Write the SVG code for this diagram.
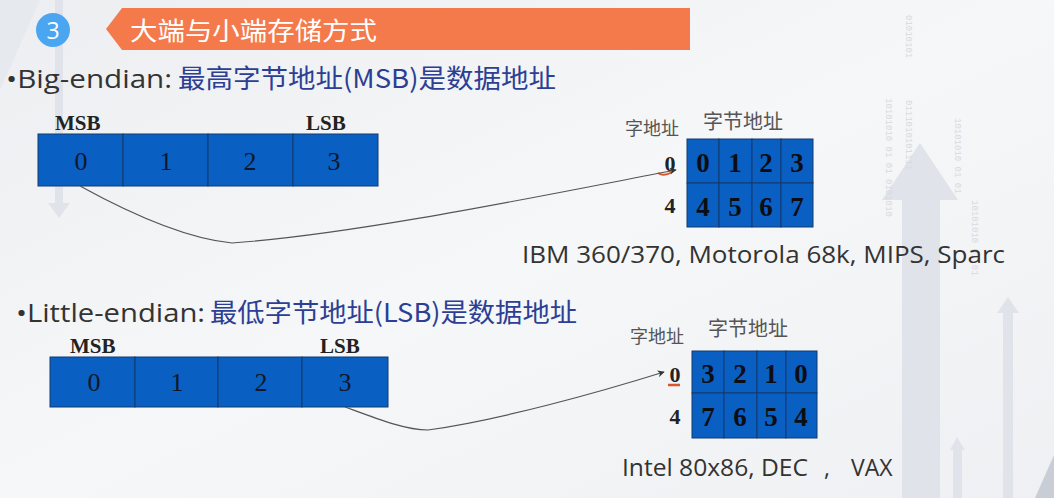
<svg xmlns="http://www.w3.org/2000/svg" width="1054" height="498" viewBox="0 0 1054 498">
  <defs>
    <linearGradient id="bg" x1="0" y1="0" x2="1" y2="1">
      <stop offset="0" stop-color="#eceef1"/>
      <stop offset="0.5" stop-color="#f6f7f8"/>
      <stop offset="1" stop-color="#eef0f3"/>
    </linearGradient>
    <marker id="arrow" viewBox="0 0 10 10" refX="9" refY="5" markerWidth="7" markerHeight="7" orient="auto" markerUnits="userSpaceOnUse">
      <path d="M0,0 L10,5 L0,10 L3,5 Z" fill="#333"/>
    </marker>
    <style>
      .cell { fill: #0a5fc2; stroke: #123a6e; stroke-width: 1; }
      .reg { font-family: "Liberation Serif", serif; font-size: 26px; fill: #101828; text-anchor: middle; }
      .grid { font-family: "Liberation Serif", serif; font-size: 27px; font-weight: bold; fill: #0d0d14; text-anchor: middle; }
      .sb { font-family: "Liberation Serif", serif; font-size: 21px; font-weight: bold; fill: #222; }
      .addr { font-family: "Liberation Serif", serif; font-size: 22px; font-weight: bold; fill: #222; text-anchor: middle; }
      .cjk { font-family: "Noto Sans CJK SC", sans-serif; fill: #555; }
      .bullet { font-family: "Open Sans", sans-serif; font-size: 26px; fill: #333; }
      .blue { font-family: "Noto Sans CJK SC", sans-serif; font-size: 26px; fill: #2c3f94; }
      .note { font-family: "Open Sans", "Noto Sans", sans-serif; font-size: 23px; fill: #333; }
      .conn { fill: none; stroke: #555; stroke-width: 1.2; }
      .deco { fill: #e0e4ea; }
      .bits { font-family: "Liberation Mono", monospace; font-size: 9px; fill: #d6dae1; }
    </style>
  </defs>

  <!-- backdrop -->
  <rect width="1054" height="498" fill="url(#bg)"/>
  <g id="backdrop">
    <polygon points="0,0 40,0 0,90" fill="#e6e9ed"/>
    <rect x="55" y="0" width="8" height="203" class="deco"/>
    <polygon points="48,203 70,203 59,218" class="deco"/>
    <polygon points="920,143 882,200 902,200 902,498 940,498 940,200 958,200" class="deco"/>
    <polygon points="1008,297 997,313 1003,313 1003,498 1013,498 1013,313 1019,313" class="deco"/>
    <polygon points="957,437 950,450 953,450 953,498 962,498 962,450 965,450" class="deco"/>
    <polygon points="1054,455 1054,498 1035,498" fill="#c9ced6"/>
    <text class="bits" transform="translate(906,15) rotate(90)">01010101</text>
    <text class="bits" transform="translate(906,100) rotate(90)">0111010101111</text>
    <text class="bits" transform="translate(955,118) rotate(90)">10101010 01 01</text>
    <text class="bits" transform="translate(886,98) rotate(90)">10101010 01 01 0101010</text>
    <text class="bits" transform="translate(972,200) rotate(90)">10101010 01 01</text>
  </g>

  <!-- section heading -->
  <g id="heading">
    <circle cx="53" cy="30" r="17" fill="#4aa6f0"/>
    <text x="53" y="38.5" font-family="Open Sans, sans-serif" font-size="23" fill="#fff" text-anchor="middle">3</text>
    <polygon points="106,29 122,8 690,8 690,50 122,50" fill="#f47a4c"/>
    <text x="130" y="40" font-family="Noto Sans CJK SC, sans-serif" font-size="25" fill="#fff" textLength="247" lengthAdjust="spacingAndGlyphs">大端与小端存储方式</text>
  </g>

  <!-- big-endian -->
  <g id="big-title">
    <text class="bullet" x="6" y="88" textLength="166" lengthAdjust="spacingAndGlyphs">•Big-endian:</text>
    <text class="blue" x="178" y="88" textLength="378" lengthAdjust="spacingAndGlyphs">最高字节地址(MSB)是数据地址</text>
  </g>

  <g id="big-register">
    <text class="sb" x="55" y="130">MSB</text>
    <text class="sb" x="306" y="130">LSB</text>
    <rect class="cell" x="38" y="134" width="85" height="52"/>
    <rect class="cell" x="123" y="134" width="85" height="52"/>
    <rect class="cell" x="208" y="134" width="85" height="52"/>
    <rect class="cell" x="293" y="134" width="85" height="52"/>
    <text class="reg" x="81" y="170">0</text>
    <text class="reg" x="166" y="170">1</text>
    <text class="reg" x="250" y="170">2</text>
    <text class="reg" x="334" y="170">3</text>
  </g>

  <g id="big-memory">
    <text class="cjk" x="625" y="135" font-size="18">字地址</text>
    <text class="cjk" x="703" y="129" font-size="20">字节地址</text>
    <text class="addr" x="670" y="171">0</text>
    <text class="addr" x="670" y="213">4</text>
    <path d="M658,173 q6,4 14,-1" fill="none" stroke="#d8562c" stroke-width="2"/>
    <rect class="cell" x="687" y="139" width="32" height="44"/>
    <rect class="cell" x="719" y="139" width="33" height="44"/>
    <rect class="cell" x="752" y="139" width="29" height="44"/>
    <rect class="cell" x="781" y="139" width="32" height="44"/>
    <rect class="cell" x="687" y="183" width="32" height="44"/>
    <rect class="cell" x="719" y="183" width="33" height="44"/>
    <rect class="cell" x="752" y="183" width="29" height="44"/>
    <rect class="cell" x="781" y="183" width="32" height="44"/>
    <text class="grid" x="703" y="172">0</text>
    <text class="grid" x="735" y="172">1</text>
    <text class="grid" x="766" y="172">2</text>
    <text class="grid" x="797" y="172">3</text>
    <text class="grid" x="703" y="216">4</text>
    <text class="grid" x="735" y="216">5</text>
    <text class="grid" x="766" y="216">6</text>
    <text class="grid" x="797" y="216">7</text>
  </g>
  <text class="note" x="522" y="263" textLength="483" lengthAdjust="spacingAndGlyphs">IBM 360/370, Motorola 68k, MIPS, Sparc</text>

  <!-- little-endian -->
  <g id="little-title">
    <text class="bullet" x="16" y="322" textLength="189" lengthAdjust="spacingAndGlyphs">•Little-endian:</text>
    <text class="blue" x="210" y="322" textLength="367" lengthAdjust="spacingAndGlyphs">最低字节地址(LSB)是数据地址</text>
  </g>

  <g id="little-register">
    <text class="sb" x="70" y="353">MSB</text>
    <text class="sb" x="320" y="353">LSB</text>
    <rect class="cell" x="50" y="357" width="85" height="50"/>
    <rect class="cell" x="135" y="357" width="83" height="50"/>
    <rect class="cell" x="218" y="357" width="84" height="50"/>
    <rect class="cell" x="302" y="357" width="86" height="50"/>
    <text class="reg" x="94" y="391">0</text>
    <text class="reg" x="177" y="391">1</text>
    <text class="reg" x="261" y="391">2</text>
    <text class="reg" x="345" y="391">3</text>
  </g>

  <g id="little-memory">
    <text class="cjk" x="630" y="343" font-size="18">字地址</text>
    <text class="cjk" x="708" y="336" font-size="20">字节地址</text>
    <text class="addr" x="675" y="382">0</text>
    <text class="addr" x="675" y="424">4</text>
    <path d="M668,385 h12" fill="none" stroke="#d8562c" stroke-width="2.5"/>
    <rect class="cell" x="692" y="351" width="32" height="42"/>
    <rect class="cell" x="724" y="351" width="33" height="42"/>
    <rect class="cell" x="757" y="351" width="29" height="42"/>
    <rect class="cell" x="786" y="351" width="31" height="42"/>
    <rect class="cell" x="692" y="393" width="32" height="45"/>
    <rect class="cell" x="724" y="393" width="33" height="45"/>
    <rect class="cell" x="757" y="393" width="29" height="45"/>
    <rect class="cell" x="786" y="393" width="31" height="45"/>
    <text class="grid" x="708" y="383">3</text>
    <text class="grid" x="740" y="383">2</text>
    <text class="grid" x="771" y="383">1</text>
    <text class="grid" x="801" y="383">0</text>
    <text class="grid" x="708" y="426">7</text>
    <text class="grid" x="740" y="426">6</text>
    <text class="grid" x="771" y="426">5</text>
    <text class="grid" x="801" y="426">4</text>
  </g>
  <text class="note" y="476"><tspan x="622" textLength="186" lengthAdjust="spacingAndGlyphs">Intel 80x86, DEC</tspan><tspan x="824">,</tspan><tspan x="851">VAX</tspan></text>

  <!-- connectors: data address to word address -->
  <g id="connectors">
    <path class="conn" d="M80,186 C120,208 180,238 232,243 C360,234 560,192 676,170" marker-end="url(#arrow)"/>
    <path class="conn" d="M345,407 C375,418 405,430 428,430 C500,420 600,392 664,372" marker-end="url(#arrow)"/>
  </g>
</svg>
